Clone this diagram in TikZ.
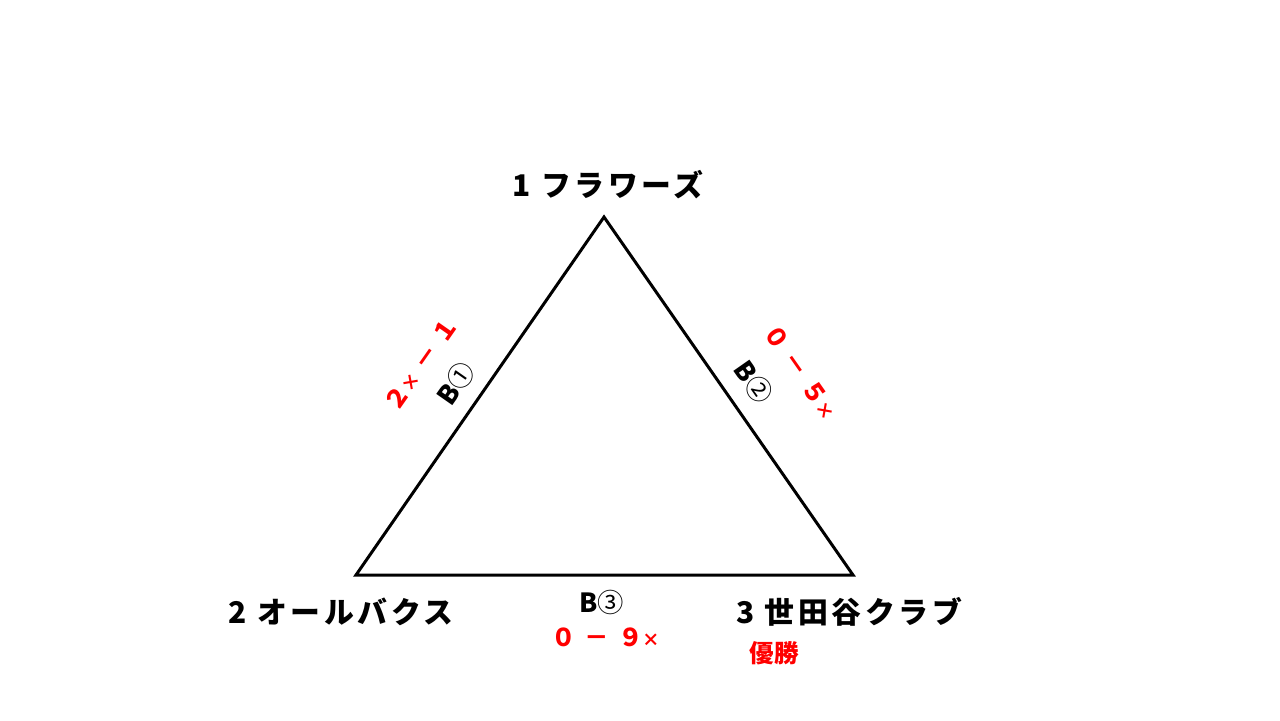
\documentclass[tikz,border=0pt]{standalone}
\usepackage{fontspec}
\setmainfont{Noto Sans CJK JP}
\newcommand{\smallx}{{\fontsize{10}{12}\selectfont ×}}
\begin{document}
\begin{tikzpicture}[x=0.02cm,y=-0.02cm,
    team/.style={font=\bfseries\fontsize{17}{20}\selectfont\addfontfeatures{LetterSpace=12}},
    score/.style={text=red,font=\bfseries\fontsize{14}{16}\selectfont\addfontfeatures{LetterSpace=12}},
    game/.style={font=\bfseries\fontsize{15}{18}\selectfont}]
  \useasboundingbox (0,0) rectangle (1280,720);
  % vertices of the league triangle
  \coordinate (v1) at (604,217);
  \coordinate (v2) at (356,575);
  \coordinate (v3) at (853,575);
  \draw[line width=1.7pt,line join=miter] (v1) -- (v2) -- (v3) -- cycle;
  % teams
  \node[team] (t1) at (608,185) {1 フラワーズ};
  \node[team] (t2) at (341,612) {2 オールバクス};
  \node[team] (t3) at (849,612) {3 世田谷クラブ};
  \node[team,text=red,font=\bfseries\fontsize{14}{16}\selectfont] (win) at (774,653) {優勝};
  % games
  \node[game,rotate=55] (g1) at (456,383) {B{\mdseries ①}};
  \node[game,rotate=-55] (g2) at (754,382) {B{\mdseries ②}};
  \node[game] (g3) at (602,602) {B{\mdseries ③}};
  \node[score,rotate=55] (s1) at (421,364) {２\smallx\ － １};
  \node[score,rotate=-55] (s2) at (801,372) {０ － ５\smallx};
  \node[score] (s3) at (606,637) {０ － ９\smallx};
\end{tikzpicture}
\end{document}
